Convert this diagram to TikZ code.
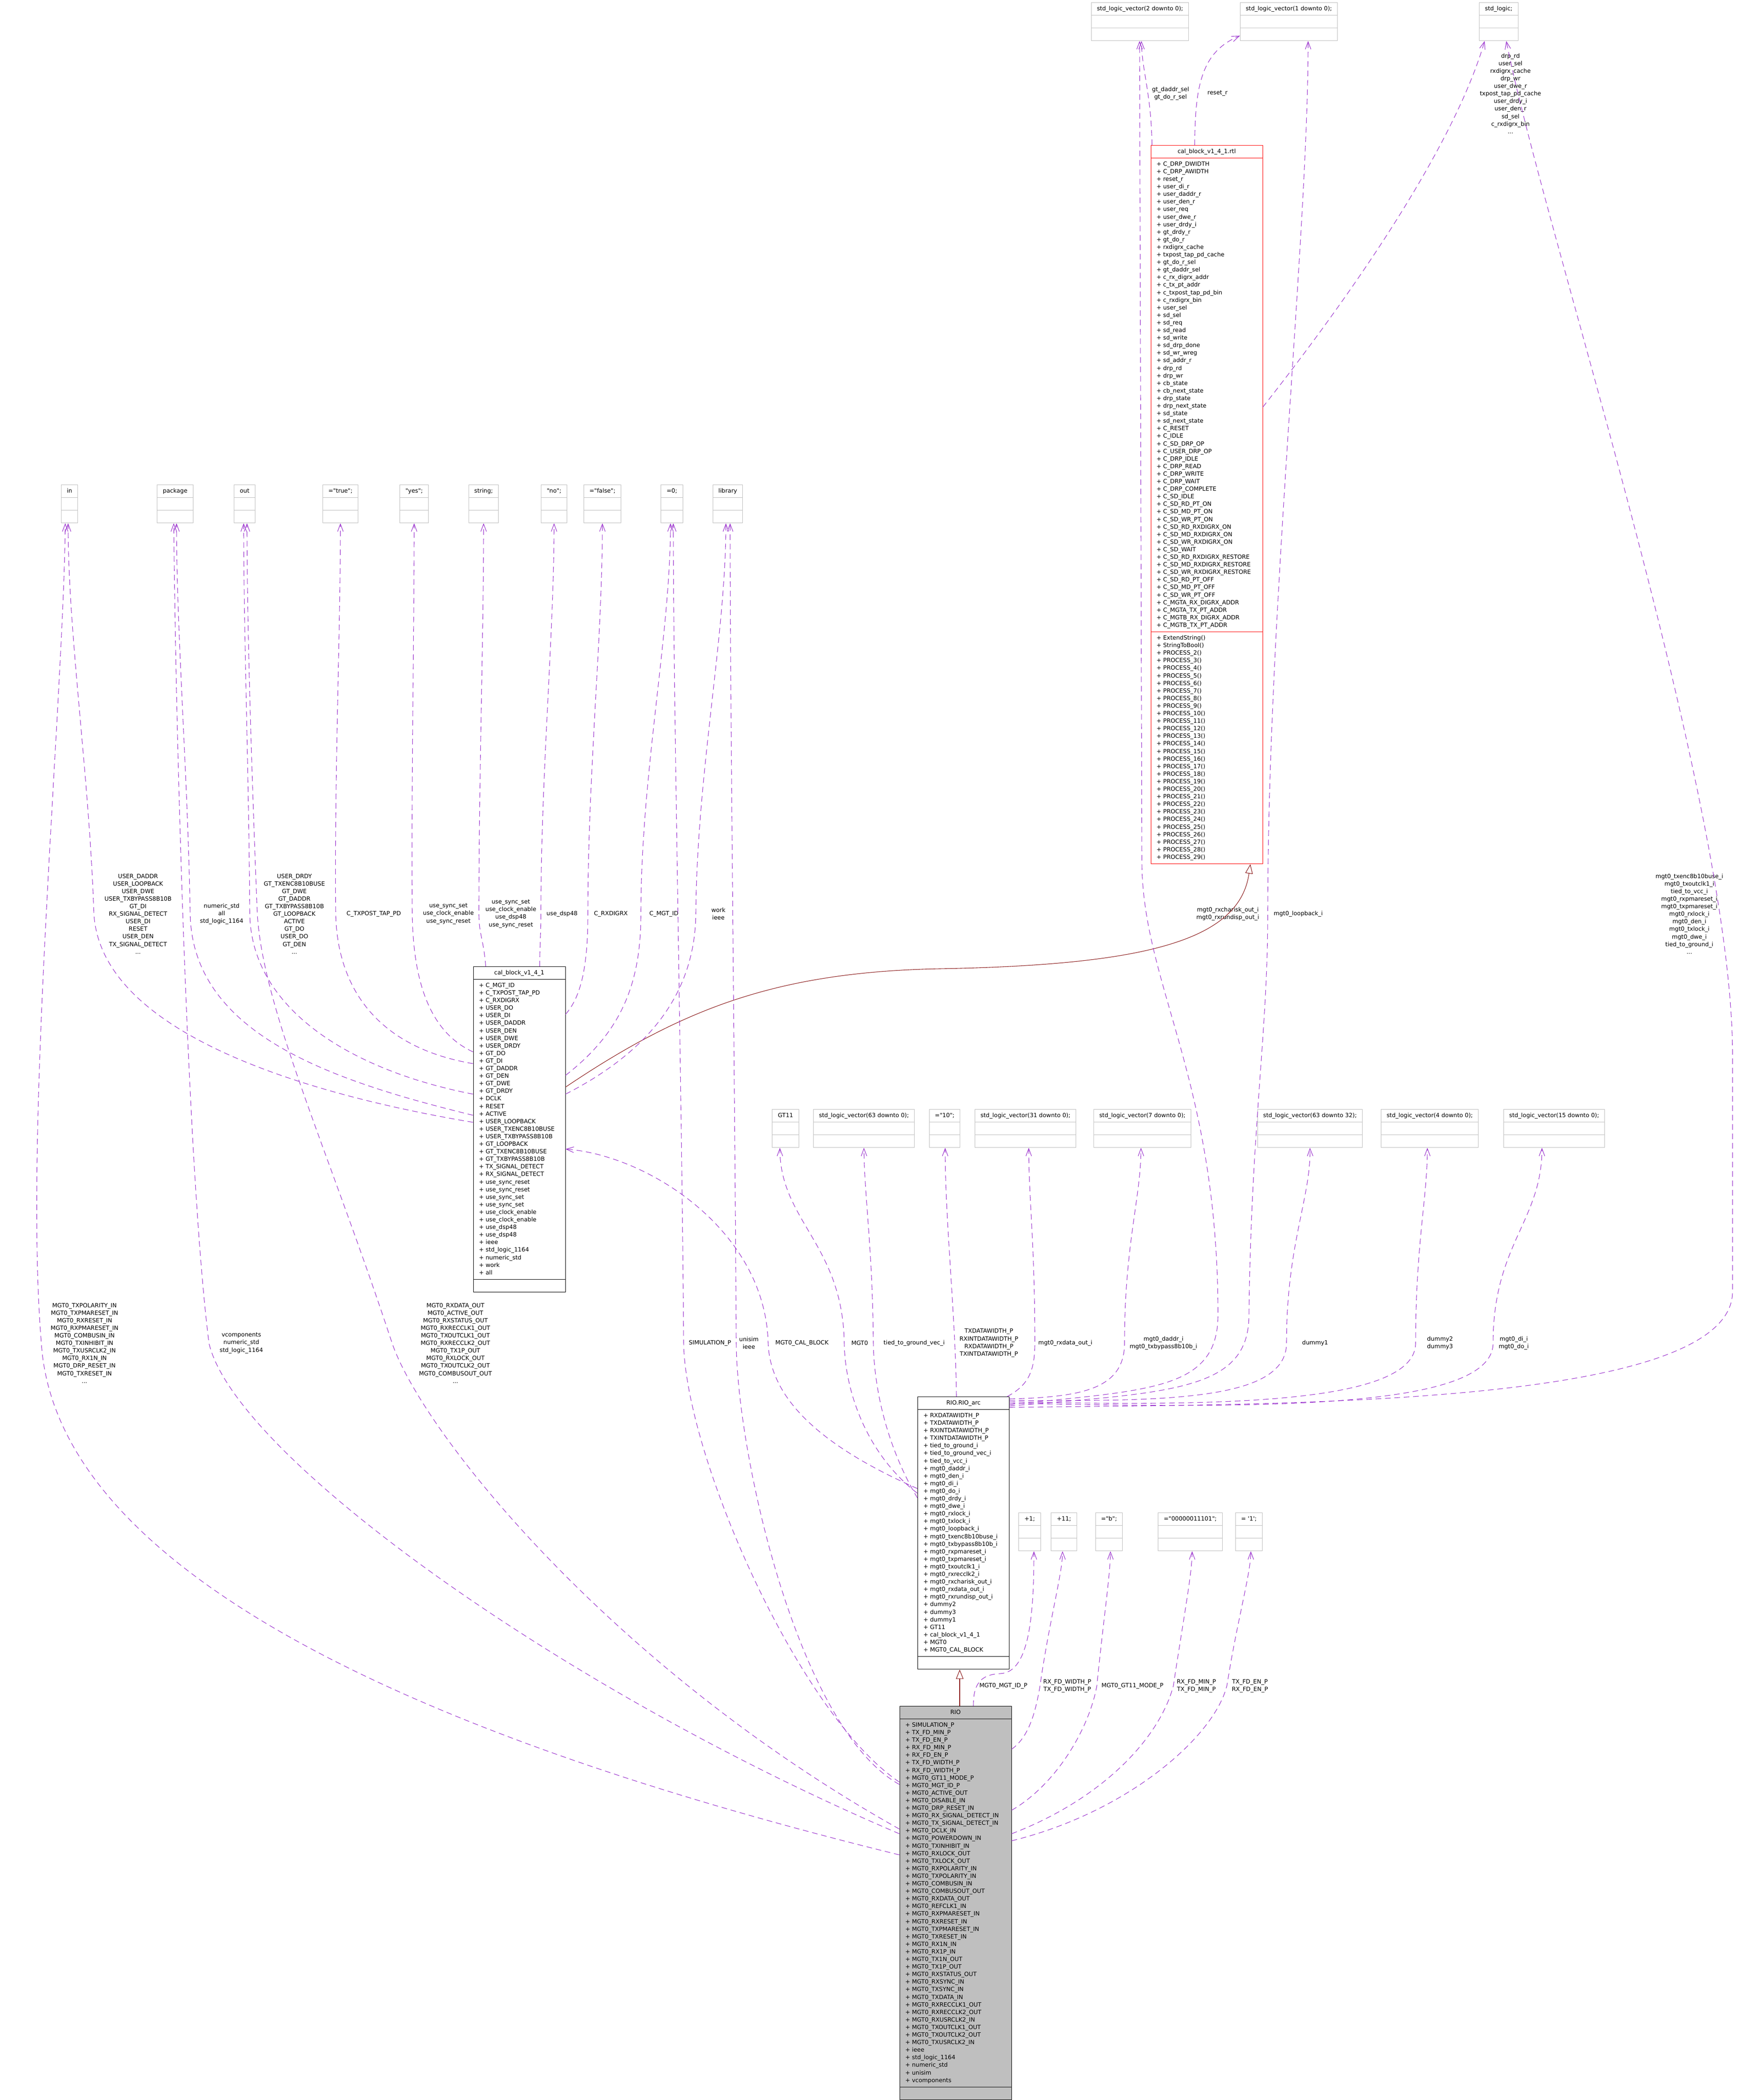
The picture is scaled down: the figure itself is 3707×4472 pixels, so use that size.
\documentclass[tikz,border=0pt]{standalone}
\usepackage{fontspec}
\setmainfont{DejaVu Sans}
\usetikzlibrary{shapes.multipart,arrows.meta}
\definecolor{orchid}{HTML}{9A32CD}
\definecolor{brick}{HTML}{8B1A1A}
\definecolor{grey75}{HTML}{BFBFBF}
\newcommand{\dq}{\textquotedbl}
\begin{document}
\begin{tikzpicture}[x=1pt, y=-1pt,
  cls/.style={rectangle split, rectangle split parts=3, rectangle split part align={center,left,left},
    draw, line width=1pt, inner xsep=12pt, inner ysep=5pt, align=left, anchor=north,
    font=\fontsize{12.4}{16.1}\selectfont},
  ext/.style={cls, draw=grey75},
  uses/.style={draw=orchid, line width=1.1pt, dash pattern=on 12pt off 8pt, -{Straight Barb[length=16pt,width=12pt]}},
  isa/.style={draw=brick, line width=1.1pt, -{Triangle[open,length=20pt,width=16pt,fill=white]}},
  lbl/.style={font=\fontsize{12.4}{16.1}\selectfont, align=center, inner sep=0pt}]
\useasboundingbox (0,0) rectangle (3707,4472);

\node[ext] (slvtwo) at (2428,5) {\strut std\_logic\_vector(2 downto 0); \nodepart{second}\strut \nodepart{third}\strut};
\node[ext] (slvone) at (2745,5) {\strut std\_logic\_vector(1 downto 0); \nodepart{second}\strut \nodepart{third}\strut};
\node[ext] (sl) at (3192,5) {\strut std\_logic; \nodepart{second}\strut \nodepart{third}\strut};

\node[cls, draw=red, minimum width=238pt] (rtl) at (2570,309) {\strut cal\_block\_v1\_4\_1.rtl
\nodepart{second}\strut+ C\_DRP\_DWIDTH\\+ C\_DRP\_AWIDTH\\+ reset\_r\\+ user\_di\_r\\+ user\_daddr\_r\\+ user\_den\_r\\+ user\_req\\+ user\_dwe\_r\\+ user\_drdy\_i\\+ gt\_drdy\_r\\+ gt\_do\_r\\+ rxdigrx\_cache\\+ txpost\_tap\_pd\_cache\\+ gt\_do\_r\_sel\\+ gt\_daddr\_sel\\+ c\_rx\_digrx\_addr\\+ c\_tx\_pt\_addr\\+ c\_txpost\_tap\_pd\_bin\\+ c\_rxdigrx\_bin\\+ user\_sel\\+ sd\_sel\\+ sd\_req\\+ sd\_read\\+ sd\_write\\+ sd\_drp\_done\\+ sd\_wr\_wreg\\+ sd\_addr\_r\\+ drp\_rd\\+ drp\_wr\\+ cb\_state\\+ cb\_next\_state\\+ drp\_state\\+ drp\_next\_state\\+ sd\_state\\+ sd\_next\_state\\+ C\_RESET\\+ C\_IDLE\\+ C\_SD\_DRP\_OP\\+ C\_USER\_DRP\_OP\\+ C\_DRP\_IDLE\\+ C\_DRP\_READ\\+ C\_DRP\_WRITE\\+ C\_DRP\_WAIT\\+ C\_DRP\_COMPLETE\\+ C\_SD\_IDLE\\+ C\_SD\_RD\_PT\_ON\\+ C\_SD\_MD\_PT\_ON\\+ C\_SD\_WR\_PT\_ON\\+ C\_SD\_RD\_RXDIGRX\_ON\\+ C\_SD\_MD\_RXDIGRX\_ON\\+ C\_SD\_WR\_RXDIGRX\_ON\\+ C\_SD\_WAIT\\+ C\_SD\_RD\_RXDIGRX\_RESTORE\\+ C\_SD\_MD\_RXDIGRX\_RESTORE\\+ C\_SD\_WR\_RXDIGRX\_RESTORE\\+ C\_SD\_RD\_PT\_OFF\\+ C\_SD\_MD\_PT\_OFF\\+ C\_SD\_WR\_PT\_OFF\\+ C\_MGTA\_RX\_DIGRX\_ADDR\\+ C\_MGTA\_TX\_PT\_ADDR\\+ C\_MGTB\_RX\_DIGRX\_ADDR\\+ C\_MGTB\_TX\_PT\_ADDR\strut
\nodepart{third}\strut+ ExtendString()\\+ StringToBool()\\+ PROCESS\_2()\\+ PROCESS\_3()\\+ PROCESS\_4()\\+ PROCESS\_5()\\+ PROCESS\_6()\\+ PROCESS\_7()\\+ PROCESS\_8()\\+ PROCESS\_9()\\+ PROCESS\_10()\\+ PROCESS\_11()\\+ PROCESS\_12()\\+ PROCESS\_13()\\+ PROCESS\_14()\\+ PROCESS\_15()\\+ PROCESS\_16()\\+ PROCESS\_17()\\+ PROCESS\_18()\\+ PROCESS\_19()\\+ PROCESS\_20()\\+ PROCESS\_21()\\+ PROCESS\_22()\\+ PROCESS\_23()\\+ PROCESS\_24()\\+ PROCESS\_25()\\+ PROCESS\_26()\\+ PROCESS\_27()\\+ PROCESS\_28()\\+ PROCESS\_29()\strut};

\node[ext] (in) at (148,1032) {\strut in \nodepart{second}\strut \nodepart{third}\strut};
\node[ext] (package) at (373,1032) {\strut package \nodepart{second}\strut \nodepart{third}\strut};
\node[ext] (out) at (521,1032) {\strut out \nodepart{second}\strut \nodepart{third}\strut};
\node[ext] (true) at (725,1032) {\strut =\dq true\dq; \nodepart{second}\strut \nodepart{third}\strut};
\node[ext] (yes) at (882,1032) {\strut \dq yes\dq; \nodepart{second}\strut \nodepart{third}\strut};
\node[ext] (string) at (1030,1032) {\strut string; \nodepart{second}\strut \nodepart{third}\strut};
\node[ext] (no) at (1180,1032) {\strut \dq no\dq; \nodepart{second}\strut \nodepart{third}\strut};
\node[ext] (false) at (1283,1032) {\strut =\dq false\dq; \nodepart{second}\strut \nodepart{third}\strut};
\node[ext] (zero) at (1431,1032) {\strut =0; \nodepart{second}\strut \nodepart{third}\strut};
\node[ext] (library) at (1550,1032) {\strut library \nodepart{second}\strut \nodepart{third}\strut};

\node[cls, minimum width=196pt] (cb) at (1106,2058) {\strut cal\_block\_v1\_4\_1
\nodepart{second}\strut+ C\_MGT\_ID\\+ C\_TXPOST\_TAP\_PD\\+ C\_RXDIGRX\\+ USER\_DO\\+ USER\_DI\\+ USER\_DADDR\\+ USER\_DEN\\+ USER\_DWE\\+ USER\_DRDY\\+ GT\_DO\\+ GT\_DI\\+ GT\_DADDR\\+ GT\_DEN\\+ GT\_DWE\\+ GT\_DRDY\\+ DCLK\\+ RESET\\+ ACTIVE\\+ USER\_LOOPBACK\\+ USER\_TXENC8B10BUSE\\+ USER\_TXBYPASS8B10B\\+ GT\_LOOPBACK\\+ GT\_TXENC8B10BUSE\\+ GT\_TXBYPASS8B10B\\+ TX\_SIGNAL\_DETECT\\+ RX\_SIGNAL\_DETECT\\+ use\_sync\_reset\\+ use\_sync\_reset\\+ use\_sync\_set\\+ use\_sync\_set\\+ use\_clock\_enable\\+ use\_clock\_enable\\+ use\_dsp48\\+ use\_dsp48\\+ ieee\\+ std\_logic\_1164\\+ numeric\_std\\+ work\\+ all\strut
\nodepart{third}\strut};

\node[ext] (gt) at (1673,2362) {\strut GT11 \nodepart{second}\strut \nodepart{third}\strut};
\node[ext] (slvsixtythree) at (1840,2362) {\strut std\_logic\_vector(63 downto 0); \nodepart{second}\strut \nodepart{third}\strut};
\node[ext] (ten) at (2012,2362) {\strut =\dq 10\dq; \nodepart{second}\strut \nodepart{third}\strut};
\node[ext] (slvthirtyone) at (2184,2362) {\strut std\_logic\_vector(31 downto 0); \nodepart{second}\strut \nodepart{third}\strut};
\node[ext] (slvseven) at (2433,2362) {\strut std\_logic\_vector(7 downto 0); \nodepart{second}\strut \nodepart{third}\strut};
\node[ext] (slvupper) at (2790,2362) {\strut std\_logic\_vector(63 downto 32); \nodepart{second}\strut \nodepart{third}\strut};
\node[ext] (slvfour) at (3045,2362) {\strut std\_logic\_vector(4 downto 0); \nodepart{second}\strut \nodepart{third}\strut};
\node[ext] (slvfifteen) at (3310,2362) {\strut std\_logic\_vector(15 downto 0); \nodepart{second}\strut \nodepart{third}\strut};

\node[cls, minimum width=195pt] (arc) at (2052,2974) {\strut RIO.RIO\_arc
\nodepart{second}\strut+ RXDATAWIDTH\_P\\+ TXDATAWIDTH\_P\\+ RXINTDATAWIDTH\_P\\+ TXINTDATAWIDTH\_P\\+ tied\_to\_ground\_i\\+ tied\_to\_ground\_vec\_i\\+ tied\_to\_vcc\_i\\+ mgt0\_daddr\_i\\+ mgt0\_den\_i\\+ mgt0\_di\_i\\+ mgt0\_do\_i\\+ mgt0\_drdy\_i\\+ mgt0\_dwe\_i\\+ mgt0\_rxlock\_i\\+ mgt0\_txlock\_i\\+ mgt0\_loopback\_i\\+ mgt0\_txenc8b10buse\_i\\+ mgt0\_txbypass8b10b\_i\\+ mgt0\_rxpmareset\_i\\+ mgt0\_txpmareset\_i\\+ mgt0\_txoutclk1\_i\\+ mgt0\_rxrecclk2\_i\\+ mgt0\_rxcharisk\_out\_i\\+ mgt0\_rxdata\_out\_i\\+ mgt0\_rxrundisp\_out\_i\\+ dummy2\\+ dummy3\\+ dummy1\\+ GT11\\+ cal\_block\_v1\_4\_1\\+ MGT0\\+ MGT0\_CAL\_BLOCK\strut
\nodepart{third}\strut};

\node[ext] (one) at (2193,3221) {\strut +1; \nodepart{second}\strut \nodepart{third}\strut};
\node[ext] (eleven) at (2266,3221) {\strut +11; \nodepart{second}\strut \nodepart{third}\strut};
\node[ext] (bee) at (2362,3221) {\strut =\dq b\dq; \nodepart{second}\strut \nodepart{third}\strut};
\node[ext] (bits) at (2535,3221) {\strut =\dq 00000011101\dq; \nodepart{second}\strut \nodepart{third}\strut};
\node[ext] (onebit) at (2660,3221) {\strut = \textquotesingle 1\textquotesingle; \nodepart{second}\strut \nodepart{third}\strut};

\node[cls, fill=grey75, minimum width=238pt] (rio) at (2035,3633) {\strut RIO
\nodepart{second}\strut+ SIMULATION\_P\\+ TX\_FD\_MIN\_P\\+ TX\_FD\_EN\_P\\+ RX\_FD\_MIN\_P\\+ RX\_FD\_EN\_P\\+ TX\_FD\_WIDTH\_P\\+ RX\_FD\_WIDTH\_P\\+ MGT0\_GT11\_MODE\_P\\+ MGT0\_MGT\_ID\_P\\+ MGT0\_ACTIVE\_OUT\\+ MGT0\_DISABLE\_IN\\+ MGT0\_DRP\_RESET\_IN\\+ MGT0\_RX\_SIGNAL\_DETECT\_IN\\+ MGT0\_TX\_SIGNAL\_DETECT\_IN\\+ MGT0\_DCLK\_IN\\+ MGT0\_POWERDOWN\_IN\\+ MGT0\_TXINHIBIT\_IN\\+ MGT0\_RXLOCK\_OUT\\+ MGT0\_TXLOCK\_OUT\\+ MGT0\_RXPOLARITY\_IN\\+ MGT0\_TXPOLARITY\_IN\\+ MGT0\_COMBUSIN\_IN\\+ MGT0\_COMBUSOUT\_OUT\\+ MGT0\_RXDATA\_OUT\\+ MGT0\_REFCLK1\_IN\\+ MGT0\_RXPMARESET\_IN\\+ MGT0\_RXRESET\_IN\\+ MGT0\_TXPMARESET\_IN\\+ MGT0\_TXRESET\_IN\\+ MGT0\_RX1N\_IN\\+ MGT0\_RX1P\_IN\\+ MGT0\_TX1N\_OUT\\+ MGT0\_TX1P\_OUT\\+ MGT0\_RXSTATUS\_OUT\\+ MGT0\_RXSYNC\_IN\\+ MGT0\_TXSYNC\_IN\\+ MGT0\_TXDATA\_IN\\+ MGT0\_RXRECCLK1\_OUT\\+ MGT0\_RXRECCLK2\_OUT\\+ MGT0\_RXUSRCLK2\_IN\\+ MGT0\_TXOUTCLK1\_OUT\\+ MGT0\_TXOUTCLK2\_OUT\\+ MGT0\_TXUSRCLK2\_IN\\+ ieee\\+ std\_logic\_1164\\+ numeric\_std\\+ unisim\\+ vcomponents\strut
\nodepart{third}\strut};

% labels
\node[lbl] (lsel) at (2493,199) {gt\_daddr\_sel\\gt\_do\_r\_sel};
\node[lbl] (lreset) at (2593,199) {reset\_r};
\node[lbl] (ldrp) at (3217,199) {drp\_rd\\user\_sel\\rxdigrx\_cache\\drp\_wr\\user\_dwe\_r\\txpost\_tap\_pd\_cache\\user\_drdy\_i\\user\_den\_r\\sd\_sel\\c\_rxdigrx\_bin\\...};
\node[lbl] (luserin) at (294,1946) {USER\_DADDR\\USER\_LOOPBACK\\USER\_DWE\\USER\_TXBYPASS8B10B\\GT\_DI\\RX\_SIGNAL\_DETECT\\USER\_DI\\RESET\\USER\_DEN\\TX\_SIGNAL\_DETECT\\...};
\node[lbl] (lcbpkg) at (472,1946) {numeric\_std\\all\\std\_logic\_1164};
\node[lbl] (luserout) at (627,1946) {USER\_DRDY\\GT\_TXENC8B10BUSE\\GT\_DWE\\GT\_DADDR\\GT\_TXBYPASS8B10B\\GT\_LOOPBACK\\ACTIVE\\GT\_DO\\USER\_DO\\GT\_DEN\\...};
\node[lbl] (ltap) at (796,1946) {C\_TXPOST\_TAP\_PD};
\node[lbl] (lyes) at (955,1946) {use\_sync\_set\\use\_clock\_enable\\use\_sync\_reset};
\node[lbl] (lstring) at (1088,1946) {use\_sync\_set\\use\_clock\_enable\\use\_dsp48\\use\_sync\_reset};
\node[lbl] (lno) at (1197,1946) {use\_dsp48};
\node[lbl] (lrxdigrx) at (1301,1946) {C\_RXDIGRX};
\node[lbl] (lmgtid) at (1414,1946) {C\_MGT\_ID};
\node[lbl] (lcblib) at (1530,1946) {work\\ieee};
\node[lbl] (lcharisk) at (2615,1946) {mgt0\_rxcharisk\_out\_i\\mgt0\_rxrundisp\_out\_i};
\node[lbl] (lloop) at (2765,1946) {mgt0\_loopback\_i};
\node[lbl] (lstd) at (3598,1946) {mgt0\_txenc8b10buse\_i\\mgt0\_txoutclk1\_i\\tied\_to\_vcc\_i\\mgt0\_rxpmareset\_i\\mgt0\_txpmareset\_i\\mgt0\_rxlock\_i\\mgt0\_den\_i\\mgt0\_txlock\_i\\mgt0\_dwe\_i\\tied\_to\_ground\_i\\...};
\node[lbl] (lrioin) at (180,2860) {MGT0\_TXPOLARITY\_IN\\MGT0\_TXPMARESET\_IN\\MGT0\_RXRESET\_IN\\MGT0\_RXPMARESET\_IN\\MGT0\_COMBUSIN\_IN\\MGT0\_TXINHIBIT\_IN\\MGT0\_TXUSRCLK2\_IN\\MGT0\_RX1N\_IN\\MGT0\_DRP\_RESET\_IN\\MGT0\_TXRESET\_IN\\...};
\node[lbl] (lriopkg) at (514,2860) {vcomponents\\numeric\_std\\std\_logic\_1164};
\node[lbl] (lrioout) at (970,2860) {MGT0\_RXDATA\_OUT\\MGT0\_ACTIVE\_OUT\\MGT0\_RXSTATUS\_OUT\\MGT0\_RXRECCLK1\_OUT\\MGT0\_TXOUTCLK1\_OUT\\MGT0\_RXRECCLK2\_OUT\\MGT0\_TX1P\_OUT\\MGT0\_RXLOCK\_OUT\\MGT0\_TXOUTCLK2\_OUT\\MGT0\_COMBUSOUT\_OUT\\...};
\node[lbl] (lsim) at (1512,2860) {SIMULATION\_P};
\node[lbl] (lriolib) at (1595,2860) {unisim\\ieee};
\node[lbl] (lcal) at (1708,2860) {MGT0\_CAL\_BLOCK};
\node[lbl] (lmgt) at (1831,2860) {MGT0};
\node[lbl] (lgndvec) at (1947,2860) {tied\_to\_ground\_vec\_i};
\node[lbl] (lwidth) at (2106,2860) {TXDATAWIDTH\_P\\RXINTDATAWIDTH\_P\\RXDATAWIDTH\_P\\TXINTDATAWIDTH\_P};
\node[lbl] (lrxdata) at (2269,2860) {mgt0\_rxdata\_out\_i};
\node[lbl] (ldaddr) at (2478,2860) {mgt0\_daddr\_i\\mgt0\_txbypass8b10b\_i};
\node[lbl] (ldummyone) at (2801,2860) {dummy1};
\node[lbl] (ldummytwo) at (3067,2860) {dummy2\\dummy3};
\node[lbl] (ldi) at (3224,2860) {mgt0\_di\_i\\mgt0\_do\_i};
\node[lbl] (lmgtidp) at (2137,3590) {MGT0\_MGT\_ID\_P};
\node[lbl] (lfdwidth) at (2273,3590) {RX\_FD\_WIDTH\_P\\TX\_FD\_WIDTH\_P};
\node[lbl] (lmode) at (2412,3590) {MGT0\_GT11\_MODE\_P};
\node[lbl] (lfdmin) at (2548,3590) {RX\_FD\_MIN\_P\\TX\_FD\_MIN\_P};
\node[lbl] (lfden) at (2662,3590) {TX\_FD\_EN\_P\\RX\_FD\_EN\_P};

% inheritance
\draw[isa] ([yshift=-257pt]cb.north east) .. controls (1450,2150) and (1650,2070) .. (2000,2063) .. controls (2450,2055) and (2640,2000) .. ([xshift=93pt]rtl.south);
\draw[isa] ([xshift=9pt]rio.north) -- ([xshift=-8pt]arc.south);

% rtl
\draw[uses] ([xshift=3pt]rtl.north west) .. controls (2452,200) and (2432,150) .. ([xshift=3pt]slvtwo.south);
\draw[uses] ([xshift=94pt]rtl.north west) .. controls (2545,180) and (2560,110) .. ([yshift=-30pt]slvone.west);
\draw[uses] ([yshift=-558pt]rtl.north east) .. controls (2900,600) and (3100,300) .. ([xshift=-30pt]sl.south);

% cal_block_v1_4_1
\draw[uses] ([yshift=-332pt]cb.north west) .. controls (650,2330) and (215,2200) .. (200,1946) .. controls (190,1650) and (145,1350) .. ([xshift=-3pt]in.south);
\draw[uses] ([yshift=-317pt]cb.north west) .. controls (700,2300) and (410,2200) .. (405,1946) .. controls (400,1650) and (376,1350) .. ([xshift=3pt]package.south);
\draw[uses] ([yshift=-272pt]cb.north west) .. controls (750,2280) and (535,2150) .. (532,1946) .. controls (530,1650) and (519,1350) .. ([xshift=-2pt]out.south);
\draw[uses] ([yshift=-207pt]cb.north west) .. controls (800,2230) and (718,2100) .. (715,1946) .. controls (712,1650) and (725,1350) .. (true.south);
\draw[uses] ([yshift=-182pt]cb.north west) .. controls (920,2200) and (880,2100) .. (878,1946) .. controls (876,1650) and (882,1350) .. (yes.south);
\draw[uses] ([xshift=27pt]cb.north west) .. controls (1030,2000) and (1020,1990) .. (1020,1946) .. controls (1020,1650) and (1030,1350) .. (string.south);
\draw[uses] ([xshift=142pt]cb.north west) .. controls (1150,2000) and (1152,1990) .. (1152,1946) .. controls (1152,1650) and (1180,1350) .. (no.south);
\draw[uses] ([yshift=-102pt]cb.north east) .. controls (1240,2120) and (1252,2050) .. (1252,1946) .. controls (1252,1650) and (1283,1350) .. (false.south);
\draw[uses] ([yshift=-232pt]cb.north east) .. controls (1320,2200) and (1365,2100) .. (1365,1946) .. controls (1365,1650) and (1428,1350) .. ([xshift=-3pt]zero.south);
\draw[uses] ([yshift=-272pt]cb.north east) .. controls (1400,2230) and (1480,2100) .. (1482,1946) .. controls (1484,1650) and (1546,1350) .. ([xshift=-4pt]library.south);

% RIO.RIO_arc
\draw[uses] ([yshift=-196pt]arc.north west) .. controls (1750,3080) and (1640,2980) .. (1636,2860) .. controls (1630,2620) and (1380,2460) .. ([yshift=-389pt]cb.north east);
\draw[uses] ([yshift=-206pt]arc.north west) .. controls (1850,3100) and (1800,2970) .. (1798,2860) .. controls (1795,2650) and (1661,2600) .. ([xshift=-12pt]gt.south);
\draw[uses] ([yshift=-216pt]arc.north west) .. controls (1900,3100) and (1862,2980) .. (1860,2860) .. controls (1858,2650) and (1841,2550) .. (slvsixtythree.south);
\draw[uses] ([xshift=-15pt]arc.north) .. controls (2035,2800) and (2013,2600) .. ([xshift=1pt]ten.south);
\draw[uses] ([xshift=-5pt]arc.north east) .. controls (2190,2950) and (2204,2920) .. (2204,2860) .. controls (2204,2650) and (2191,2550) .. ([xshift=7pt]slvthirtyone.south);
\draw[uses] ([yshift=-5pt]arc.north east) .. controls (2300,2975) and (2395,2960) .. (2395,2860) .. controls (2395,2650) and (2430,2550) .. ([xshift=-3pt]slvseven.south);
\draw[uses] ([yshift=-8pt]arc.north east) .. controls (2500,2985) and (2740,2980) .. (2740,2860) .. controls (2740,2650) and (2792,2550) .. (slvupper.south);
\draw[uses] ([yshift=-11pt]arc.north east) .. controls (2600,2995) and (3015,2990) .. (3015,2860) .. controls (3015,2650) and (3040,2550) .. ([xshift=-5pt]slvfour.south);
\draw[uses] ([yshift=-14pt]arc.north east) .. controls (2700,3000) and (3180,3000) .. (3180,2860) .. controls (3180,2650) and (3284,2600) .. ([xshift=-26pt]slvfifteen.south);
\draw[uses] ([yshift=-17pt]arc.north east) .. controls (2450,2960) and (2594,2960) .. (2594,2800) .. controls (2594,2300) and (2435,2100) .. (2432,1840) -- ([xshift=-1pt]slvtwo.south);
\draw[uses] ([yshift=-20pt]arc.north east) .. controls (2500,2965) and (2660,2960) .. (2660,2800) .. controls (2665,2400) and (2700,2200) .. (2700,1946) .. controls (2700,1300) and (2786,500) .. ([xshift=41pt]slvone.south);
\draw[uses] ([yshift=-23pt]arc.north east) .. controls (2700,2990) and (3690,3000) .. (3690,2750) -- (3690,2250) .. controls (3690,1700) and (3290,500) .. ([xshift=16pt]sl.south);

% RIO
\draw[uses] ([yshift=-162pt]rio.north west) .. controls (1700,3650) and (1460,3100) .. (1456,2860) .. controls (1452,2300) and (1434,1500) .. ([xshift=3pt]zero.south);
\draw[uses] ([yshift=-167pt]rio.north west) .. controls (1700,3680) and (1570,3100) .. (1568,2860) .. controls (1565,2300) and (1555,1500) .. ([xshift=5pt]library.south);
\draw[uses] ([yshift=-262pt]rio.north west) .. controls (1300,3550) and (900,3050) .. (835,2860) .. controls (700,2450) and (560,2150) .. (548,1946) .. controls (538,1700) and (526,1350) .. ([xshift=5pt]out.south);
\draw[uses] ([yshift=-272pt]rio.north west) .. controls (1200,3600) and (500,3100) .. (445,2860) .. controls (400,2500) and (375,1600) .. ([xshift=-3pt]package.south);
\draw[uses] ([yshift=-317pt]rio.north west) .. controls (900,3700) and (120,3350) .. (88,2860) .. controls (50,2400) and (135,1500) .. ([xshift=-9pt]in.south);
\draw[uses] ([xshift=38pt]rio.north) .. controls (2073,3590) and (2085,3566) .. (2130,3564) .. controls (2190,3562) and (2202,3450) .. ([xshift=9pt]one.south);
\draw[uses] ([yshift=-92pt]rio.north east) .. controls (2190,3700) and (2205,3650) .. (2215,3590) .. controls (2235,3450) and (2263,3350) .. ([xshift=-3pt]eleven.south);
\draw[uses] ([yshift=-222pt]rio.north east) .. controls (2250,3800) and (2320,3680) .. (2336,3590) .. controls (2350,3450) and (2365,3350) .. ([xshift=3pt]bee.south);
\draw[uses] ([yshift=-272pt]rio.north east) .. controls (2350,3830) and (2470,3700) .. (2499,3590) .. controls (2520,3450) and (2539,3350) .. ([xshift=4pt]bits.south);
\draw[uses] ([yshift=-287pt]rio.north east) .. controls (2400,3860) and (2585,3700) .. (2613,3590) .. controls (2635,3450) and (2664,3350) .. ([xshift=4pt]onebit.south);
\end{tikzpicture}
\end{document}
